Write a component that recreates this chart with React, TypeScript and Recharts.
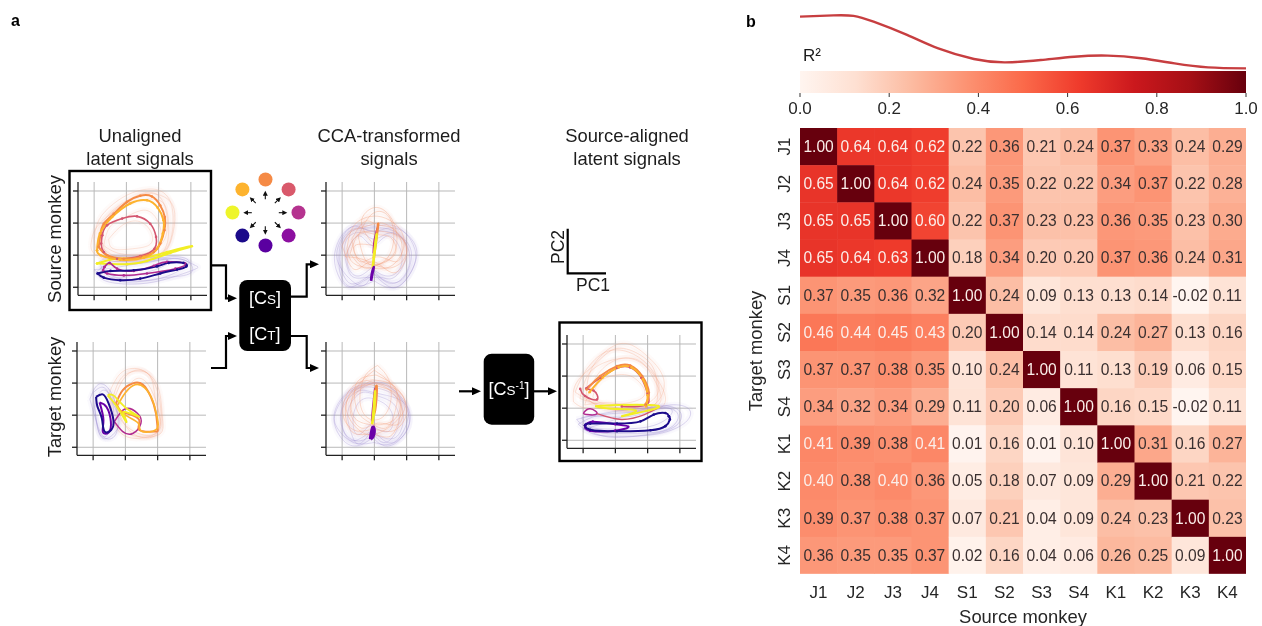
import React from "react";
import {
  Area,
  AreaChart,
  Bar,
  BarChart,
  CartesianGrid,
  ComposedChart,
  Line,
  LineChart,
  Scatter,
  ScatterChart,
  XAxis,
  YAxis,
} from "recharts";

type Pt = [number, number];

const FONT = "'Liberation Sans', Arial, sans-serif";

// --- heatmap ---
const sourceLabels = ["J1", "J2", "J3", "J4", "S1", "S2", "S3", "S4", "K1", "K2", "K3", "K4"];
const targetLabels = ["J1", "J2", "J3", "J4", "S1", "S2", "S3", "S4", "K1", "K2", "K3", "K4"];
const rowJ1 = [1.0, 0.64, 0.64, 0.62, 0.22, 0.36, 0.21, 0.24, 0.37, 0.33, 0.24, 0.29];
const rowJ2 = [0.65, 1.0, 0.64, 0.62, 0.24, 0.35, 0.22, 0.22, 0.34, 0.37, 0.22, 0.28];
const rowJ3 = [0.65, 0.65, 1.0, 0.6, 0.22, 0.37, 0.23, 0.23, 0.36, 0.35, 0.23, 0.3];
const rowJ4 = [0.65, 0.64, 0.63, 1.0, 0.18, 0.34, 0.2, 0.2, 0.37, 0.36, 0.24, 0.31];
const rowS1 = [0.37, 0.35, 0.36, 0.32, 1.0, 0.24, 0.09, 0.13, 0.13, 0.14, -0.02, 0.11];
const rowS2 = [0.46, 0.44, 0.45, 0.43, 0.2, 1.0, 0.14, 0.14, 0.24, 0.27, 0.13, 0.16];
const rowS3 = [0.37, 0.37, 0.38, 0.35, 0.1, 0.24, 1.0, 0.11, 0.13, 0.19, 0.06, 0.15];
const rowS4 = [0.34, 0.32, 0.34, 0.29, 0.11, 0.2, 0.06, 1.0, 0.16, 0.15, -0.02, 0.11];
const rowK1 = [0.41, 0.39, 0.38, 0.41, 0.01, 0.16, 0.01, 0.1, 1.0, 0.31, 0.16, 0.27];
const rowK2 = [0.4, 0.38, 0.4, 0.36, 0.05, 0.18, 0.07, 0.09, 0.29, 1.0, 0.21, 0.22];
const rowK3 = [0.39, 0.37, 0.38, 0.37, 0.07, 0.21, 0.04, 0.09, 0.24, 0.23, 1.0, 0.23];
const rowK4 = [0.36, 0.35, 0.35, 0.37, 0.02, 0.16, 0.04, 0.06, 0.26, 0.25, 0.09, 1.0];
const matrix = [rowJ1, rowJ2, rowJ3, rowJ4, rowS1, rowS2, rowS3, rowS4, rowK1, rowK2, rowK3, rowK4];

const redsStops = ["#fff5f0", "#fee0d2", "#fcbba1", "#fc9272", "#fb6a4a", "#ef3b2c", "#cb181d", "#a50f15", "#67000d"];

// --- R2 curve above the colour bar ---
const curveX = [0, 0.075, 0.12, 0.165, 0.24, 0.31, 0.39, 0.46, 0.54, 0.615, 0.69, 0.765, 0.84, 0.915, 1];
const curveY = [0.975, 1, 0.99, 0.88, 0.63, 0.375, 0.176, 0.113, 0.157, 0.22, 0.24, 0.19, 0.094, 0.019, 0];
const colorbarTicks = [0, 0.2, 0.4, 0.6, 0.8, 1];

// --- reach direction legend ---
const dirX = [0, 0.7, 1, 0.7, 0, -0.7, -1, -0.7];
const dirY = [1, 0.7, 0, -0.7, -1, -0.7, 0, 0.7];
const dirColors = ["#f58a45", "#d9596b", "#b5338f", "#8c0fa0", "#5a00a0", "#1b0a8a", "#eef52a", "#fdb32e"];

const ORANGE = "#f58a45";
const GOLD = "#fdb32e";
const ROSE = "#d4566f";
const YELLOW = "#f2ee24";
const MAGENTA = "#b12a90";
const PURPLE = "#6a00a8";
const NAVY = "#1d0c8c";
const FAINT_WARM = "#f4a582";
const FAINT_COOL = "#9a8ad0";

// --- source monkey, unaligned ---
const s1Orange: Pt[] = [[0.14, 1.26], [0.2, 1.67], [0.3, 1.98], [0.61, 2.29], [1.02, 2.66], [1.43, 2.85], [1.79, 2.83], [2.05, 2.55], [2.19, 2.19], [2.18, 1.78], [2.05, 1.36], [1.85, 1.1], [1.43, 0.94], [0.92, 0.89], [0.4, 1.0], [0.14, 1.26]];
const s1Gold: Pt[] = [[0.09, 1.15], [0.18, 1.67], [0.56, 2.19], [1.12, 2.61], [1.64, 2.71], [1.97, 2.48], [2.15, 2.09], [2.13, 1.67], [1.95, 1.2], [1.54, 0.92], [0.81, 0.86], [0.2, 1.0], [0.09, 1.15]];
const s1Rose: Pt[] = [[0.25, 1.62], [0.4, 1.93], [0.87, 2.14], [1.33, 2.21], [1.74, 1.98], [1.92, 1.57], [1.87, 1.2], [1.43, 0.97], [0.71, 0.89], [0.3, 1.1], [0.22, 1.36], [0.25, 1.62]];
const s1Yellow: Pt[] = [[0.09, 0.74], [0.71, 0.89], [1.54, 0.92], [2.26, 1.1], [3.03, 1.28], [2.36, 1.07], [1.64, 0.82], [1.02, 0.72], [0.09, 0.74]];
const s1Magenta: Pt[] = [[0.32, 0.63], [0.48, 0.76], [0.71, 0.58], [1.23, 0.51], [1.85, 0.67], [2.26, 0.79], [2.82, 0.74], [2.52, 0.58], [1.64, 0.43], [0.92, 0.37], [0.4, 0.43], [0.28, 0.53], [0.32, 0.63]];
const s1Navy: Pt[] = [[0.11, 0.43], [0.3, 0.3], [0.81, 0.22], [1.43, 0.27], [2.05, 0.43], [2.57, 0.55], [2.86, 0.65], [2.77, 0.76], [2.31, 0.76], [1.95, 0.65], [1.23, 0.53], [0.51, 0.51], [0.11, 0.43]];
const s1Warm: Pt[][] = [
  [[0.0, 1.5], [0.15, 2.1], [0.6, 2.6], [1.2, 2.95], [1.9, 3.05], [2.35, 2.7], [2.45, 2.0], [2.3, 1.3], [1.8, 0.95], [0.9, 0.8], [0.2, 0.95], [0.0, 1.5]],
  [[-0.1, 1.3], [0.1, 1.9], [0.8, 2.5], [1.5, 2.9], [2.2, 2.8], [2.5, 2.3], [2.4, 1.5], [2.0, 1.0], [1.0, 0.9], [0.1, 1.0], [-0.1, 1.3]],
  [[0.3, 1.3], [0.5, 1.9], [1.0, 2.2], [1.6, 2.4], [2.0, 2.0], [2.05, 1.4], [1.6, 1.05], [0.8, 1.05], [0.3, 1.3]],
  [[0.1, 1.5], [0.4, 2.2], [1.1, 2.75], [1.8, 2.95], [2.2, 2.5], [2.25, 1.7], [1.9, 1.2], [1.1, 0.95], [0.4, 1.1], [0.1, 1.5]],
  [[0.45, 1.5], [0.9, 1.95], [1.4, 2.05], [1.75, 1.75], [1.75, 1.35], [1.2, 1.2], [0.6, 1.2], [0.45, 1.5]],
  [[0.2, 1.8], [0.7, 2.45], [1.35, 2.7], [2.05, 2.7], [2.3, 2.1], [2.2, 1.2], [1.5, 0.85], [0.5, 0.95], [0.2, 1.8]],
];
const s1Cool: Pt[][] = [
  [[0.05, 0.45], [0.4, 0.18], [1.2, 0.1], [2.1, 0.22], [3.1, 0.55], [3.1, 0.7], [2.5, 0.9], [1.5, 0.75], [0.5, 0.7], [0.05, 0.45]],
  [[0.2, 0.6], [0.7, 0.3], [1.6, 0.2], [2.4, 0.4], [2.95, 0.78], [2.4, 0.95], [1.4, 0.8], [0.6, 0.8], [0.2, 0.6]],
  [[0.0, 0.55], [0.5, 0.25], [1.3, 0.17], [2.2, 0.3], [3.0, 0.45], [2.8, 0.85], [1.8, 0.82], [0.7, 0.62], [0.0, 0.55]],
  [[0.15, 0.8], [0.45, 0.35], [1.0, 0.32], [1.9, 0.55], [2.3, 0.85], [1.5, 0.95], [0.6, 0.95], [0.15, 0.8]],
];

// --- target monkey, unaligned ---
const t1Navy: Pt[] = [[0.09, 1.57], [0.3, 1.65], [0.48, 1.37], [0.63, 0.85], [0.56, 0.54], [0.35, 0.5], [0.27, 0.9], [0.14, 1.25], [0.09, 1.57]];
const t1Purple: Pt[] = [[0.2, 1.4], [0.42, 1.25], [0.55, 0.8], [0.48, 0.46], [0.3, 0.48], [0.32, 0.85], [0.2, 1.4]];
const t1Orange: Pt[] = [[0.71, 1.37], [0.92, 1.78], [1.23, 1.99], [1.53, 1.96], [1.79, 1.57], [1.95, 1.05], [2.0, 0.59], [1.9, 0.49], [1.43, 0.54], [1.43, 0.85], [1.07, 1.05], [0.82, 1.16], [0.71, 1.37]];
const t1Gold: Pt[] = [[0.75, 1.3], [1.0, 1.7], [1.3, 1.95], [1.6, 1.85], [1.85, 1.45], [1.98, 0.95], [1.95, 0.55], [1.5, 0.5], [1.4, 0.75], [1.0, 1.0], [0.75, 1.3]];
const t1Rose: Pt[] = [[0.66, 0.8], [0.92, 0.49], [1.23, 0.43], [1.48, 0.74], [1.38, 1.05], [1.0, 1.2], [0.66, 0.8]];
const t1Yellow: Pt[] = [[0.45, 1.62], [0.75, 1.25], [1.02, 0.8], [0.98, 0.95], [1.0, 1.1], [1.43, 0.95], [1.05, 1.2], [0.65, 1.6], [0.45, 1.62]];
const t1Warm: Pt[][] = [
  [[0.55, 1.3], [0.8, 2.05], [1.2, 2.35], [1.7, 2.3], [2.05, 1.75], [2.15, 0.9], [2.05, 0.4], [1.3, 0.35], [0.7, 0.7], [0.55, 1.3]],
  [[0.65, 1.5], [1.0, 2.2], [1.5, 2.4], [1.9, 2.0], [2.1, 1.2], [2.0, 0.5], [1.5, 0.4], [0.9, 0.8], [0.65, 1.5]],
  [[0.75, 1.2], [1.1, 1.9], [1.45, 2.15], [1.8, 1.8], [2.05, 1.0], [1.9, 0.35], [1.2, 0.45], [0.75, 1.2]],
  [[0.5, 1.7], [0.85, 2.3], [1.35, 2.45], [1.8, 2.15], [1.95, 1.4], [2.1, 0.65], [1.6, 0.3], [0.8, 0.5], [0.5, 1.7]],
];
const t1Cool: Pt[][] = [
  [[-0.1, 1.5], [0.15, 1.95], [0.5, 1.8], [0.75, 1.1], [0.7, 0.4], [0.35, 0.3], [0.1, 0.8], [-0.1, 1.5]],
  [[0.0, 1.7], [0.35, 1.85], [0.65, 1.3], [0.8, 0.7], [0.45, 0.28], [0.15, 0.55], [0.0, 1.7]],
  [[0.05, 1.25], [0.25, 1.75], [0.55, 1.55], [0.6, 0.7], [0.25, 0.35], [0.05, 1.25]],
];

// --- CCA-transformed panels ---
const ccaTopWarm: Pt[][] = [
  [[1.0, 1.3], [0.6, 2.0], [0.9, 2.45], [1.3, 2.4], [1.6, 2.0], [1.7, 1.4], [1.5, 0.9], [1.0, 0.7], [0.5, 0.9], [0.4, 1.3], [1.0, 1.3]],
  [[0.15, 1.2], [0.35, 1.9], [0.85, 2.2], [1.35, 2.15], [1.8, 1.8], [1.9, 1.2], [1.5, 0.65], [0.9, 0.6], [0.35, 0.75], [0.15, 1.2]],
  [[0.3, 1.5], [0.7, 2.05], [1.1, 1.95], [1.55, 1.85], [1.85, 1.35], [1.7, 0.8], [1.1, 0.95], [0.55, 0.8], [0.3, 1.5]],
  [[0.5, 1.6], [0.95, 2.3], [1.45, 2.2], [1.6, 1.5], [1.35, 0.85], [0.8, 0.75], [0.5, 1.6]],
  [[0.0, 1.3], [0.3, 1.75], [0.75, 1.9], [1.25, 2.0], [1.75, 1.65], [2.0, 1.05], [1.6, 0.45], [0.95, 0.8], [0.4, 0.55], [0.0, 1.3]],
  [[0.25, 1.05], [0.55, 1.7], [1.0, 1.65], [1.5, 1.55], [1.65, 1.05], [1.2, 0.75], [0.7, 0.6], [0.25, 1.05]],
  [[0.1, 0.95], [0.4, 1.55], [0.9, 1.75], [1.45, 1.7], [1.95, 1.4], [1.9, 0.85], [1.35, 0.6], [0.7, 0.85], [0.1, 0.95]],
];
const ccaTopCool: Pt[][] = [
  [[1.0, 0.4], [0.5, 0.1], [0.1, 0.05], [-0.2, 0.6], [-0.2, 1.2], [0.1, 1.75], [0.6, 1.95], [1.0, 1.9], [1.4, 1.95], [1.9, 1.75], [2.25, 1.2], [2.2, 0.6], [1.8, 0.05], [1.4, 0.05], [1.0, 0.4]],
  [[1.0, 0.5], [0.6, 0.2], [0.2, 0.15], [-0.05, 0.7], [0.0, 1.3], [0.3, 1.75], [0.8, 1.85], [1.2, 1.85], [1.7, 1.7], [2.05, 1.2], [2.05, 0.6], [1.7, 0.15], [1.3, 0.2], [1.0, 0.5]],
  [[1.0, 0.3], [0.7, 0.3], [0.3, 0.35], [0.1, 0.9], [0.15, 1.5], [0.6, 1.7], [1.0, 1.5], [1.5, 1.7], [1.95, 1.4], [1.95, 0.8], [1.6, 0.3], [1.25, 0.3], [1.0, 0.3]],
  [[0.9, 0.6], [0.5, 0.35], [0.2, 0.6], [0.2, 1.2], [0.55, 1.6], [0.95, 1.3], [1.4, 1.6], [1.8, 1.2], [1.8, 0.6], [1.4, 0.35], [0.9, 0.6]],
  [[1.0, 0.2], [0.4, 0.0], [0.0, 0.25], [-0.1, 0.95], [0.05, 1.55], [0.5, 1.85], [1.0, 1.75], [1.6, 1.85], [2.15, 1.5], [2.3, 0.9], [1.9, 0.15], [1.4, 0.0], [1.0, 0.2]],
  [[0.95, 0.45], [0.65, 0.05], [0.2, 0.3], [-0.15, 0.85], [-0.05, 1.45], [0.35, 1.9], [0.85, 1.75], [1.3, 1.75], [1.85, 1.55], [2.15, 1.05], [1.95, 0.35], [1.5, 0.15], [0.95, 0.45]],
];
const ccaBottomWarm: Pt[][] = [
  [[0.95, 2.1], [0.4, 1.95], [0.05, 1.4], [0.1, 0.8], [0.5, 0.5], [1.0, 0.55], [1.55, 0.5], [1.95, 0.9], [1.95, 1.45], [1.55, 1.95], [0.95, 2.1]],
  [[1.0, 2.4], [0.6, 2.05], [0.3, 1.5], [0.4, 0.9], [1.0, 0.7], [1.6, 0.85], [1.8, 1.4], [1.5, 2.0], [1.0, 2.4]],
  [[0.95, 2.0], [0.5, 1.75], [0.25, 1.15], [0.6, 0.6], [1.1, 0.75], [1.7, 0.7], [1.85, 1.2], [1.45, 1.8], [0.95, 2.0]],
  [[1.1, 2.55], [0.7, 2.2], [0.55, 1.5], [0.75, 0.95], [1.2, 0.9], [1.5, 1.4], [1.45, 2.1], [1.1, 2.55]],
  [[0.9, 1.95], [0.35, 1.8], [0.1, 1.1], [0.35, 0.45], [0.95, 0.4], [1.5, 0.35], [1.8, 1.0], [1.7, 1.65], [0.9, 1.95]],
  [[1.05, 2.25], [0.45, 2.0], [0.45, 1.2], [0.8, 0.8], [1.35, 0.6], [1.65, 1.15], [1.65, 1.85], [1.05, 2.25]],
  [[0.85, 2.05], [0.2, 1.55], [0.2, 0.95], [0.65, 0.45], [1.25, 0.5], [1.9, 1.1], [1.75, 1.75], [0.85, 2.05]],
];
const ccaBottomCool: Pt[][] = [
  [[0.95, 0.3], [0.5, 0.05], [0.05, 0.2], [-0.25, 0.8], [-0.1, 1.4], [0.35, 1.85], [0.95, 2.0], [1.5, 1.85], [1.95, 1.4], [2.1, 0.8], [1.75, 0.2], [1.3, 0.05], [0.95, 0.3]],
  [[1.0, 0.4], [0.55, 0.2], [0.15, 0.35], [-0.05, 0.85], [0.1, 1.5], [0.55, 1.85], [1.05, 1.85], [1.65, 1.6], [1.9, 0.95], [1.65, 0.3], [1.0, 0.4]],
  [[0.9, 0.5], [0.5, 0.1], [0.25, 0.55], [0.2, 1.2], [0.6, 1.7], [1.1, 1.6], [1.6, 1.35], [1.75, 0.7], [1.35, 0.15], [0.9, 0.5]],
  [[1.0, 0.15], [0.35, 0.15], [-0.15, 0.6], [-0.2, 1.1], [0.2, 1.7], [0.8, 1.95], [1.4, 1.95], [2.0, 1.2], [2.0, 0.5], [1.5, 0.1], [1.0, 0.15]],
  [[0.85, 0.7], [0.45, 0.4], [0.35, 1.0], [0.65, 1.5], [1.15, 1.45], [1.55, 1.05], [1.45, 0.5], [0.85, 0.7]],
  [[0.95, 0.55], [0.3, 0.2], [0.0, 0.7], [0.05, 1.3], [0.5, 1.75], [1.0, 1.7], [1.75, 1.5], [2.05, 0.95], [1.6, 0.15], [0.95, 0.55]],
];
const ccaTopYellow: Pt[] = [[0.95, 0.62], [1.0, 1.1], [1.07, 1.65], [1.02, 1.2], [0.95, 0.62]];
const ccaTopOrange: Pt[] = [[0.98, 0.9], [1.05, 1.45], [1.12, 1.98], [1.06, 1.5], [0.98, 0.9]];
const ccaTopRose: Pt[] = [[0.97, 1.05], [1.0, 1.45], [1.1, 1.85]];
const ccaTopNavy: Pt[] = [[0.9, 0.2], [0.94, 0.42], [0.98, 0.63], [0.92, 0.42], [0.9, 0.2]];
const ccaBottomYellow: Pt[] = [[0.93, 0.72], [0.98, 1.2], [1.02, 1.75], [1.0, 1.2], [0.93, 0.72]];
const ccaBottomOrange: Pt[] = [[0.98, 1.0], [1.02, 1.6], [1.07, 1.9], [1.04, 1.3], [0.98, 1.0]];
const ccaBottomRose: Pt[] = [[0.92, 0.8], [0.95, 1.2], [1.02, 1.85]];
const ccaBottomNavy: Pt[] = [[0.88, 0.25], [0.92, 0.5], [0.97, 0.62], [0.98, 0.4], [0.88, 0.25]];

// --- source-aligned target signals ---
const alOrange: Pt[] = [[0.11, 1.58], [0.53, 2.0], [1.05, 2.31], [1.46, 2.33], [1.83, 2.0], [2.04, 1.48], [1.93, 1.11]];
const alGold: Pt[] = [[0.2, 1.5], [0.6, 1.95], [1.1, 2.27], [1.5, 2.27], [1.85, 1.9], [2.0, 1.4], [1.95, 1.05]];
const alRose: Pt[] = [[-0.09, 1.6], [0.06, 1.38], [0.43, 1.27], [0.32, 1.55], [0.1, 1.62], [0.55, 1.95], [1.05, 2.25], [1.46, 2.27], [1.8, 1.95], [2.0, 1.45], [1.95, 1.1], [1.2, 1.05]];
const alYellow: Pt[] = [[0.37, 1.06], [1.1, 1.1], [2.3, 1.08], [1.9, 0.9], [1.2, 0.75], [1.65, 0.92], [0.9, 0.98], [0.37, 1.06]];
const alMagenta: Pt[] = [[0.01, 0.85], [0.22, 0.98], [0.43, 0.83], [0.11, 0.8], [0.01, 0.85]];
const alMagentaTail: Pt[] = [[0.43, 0.83], [1.2, 0.65], [1.9, 0.8], [2.3, 1.0]];
const alNavy: Pt[] = [[2.66, 0.75], [2.55, 0.85], [2.19, 0.8], [1.78, 0.59], [1.05, 0.52], [0.22, 0.52], [0.06, 0.46], [0.22, 0.33], [1.05, 0.28], [2.09, 0.31], [2.55, 0.44], [2.69, 0.65], [2.66, 0.75]];
const alPurple: Pt[] = [[0.06, 0.46], [0.3, 0.58], [1.0, 0.5], [1.4, 0.42], [1.0, 0.3], [0.22, 0.3], [0.06, 0.46]];
const alWarm: Pt[][] = [
  [[-0.3, 1.2], [-0.2, 1.8], [0.4, 2.4], [1.0, 2.85], [1.7, 2.7], [2.2, 2.2], [2.3, 1.5], [2.1, 1.05], [1.0, 1.0], [0.1, 1.0], [-0.3, 1.2]],
  [[-0.1, 1.3], [0.2, 2.1], [0.9, 2.5], [1.7, 2.5], [2.2, 1.9], [2.4, 1.2], [1.7, 0.95], [0.6, 1.1], [-0.1, 1.3]],
  [[0.1, 1.4], [0.3, 2.3], [1.1, 3.0], [1.9, 2.7], [2.5, 1.9], [2.2, 1.1], [1.3, 0.9], [0.4, 1.1], [0.1, 1.4]],
  [[0.3, 1.35], [0.55, 1.85], [1.2, 2.05], [1.7, 1.85], [1.9, 1.4], [1.3, 1.15], [0.6, 1.15], [0.3, 1.35]],
  [[-0.25, 1.5], [0.1, 2.2], [0.7, 2.75], [1.4, 2.75], [2.0, 2.35], [2.35, 1.7], [2.0, 1.15], [0.9, 0.95], [-0.25, 1.5]],
  [[0.05, 1.1], [0.45, 2.05], [1.2, 2.55], [2.0, 2.25], [2.55, 1.35], [2.1, 0.95], [1.0, 1.15], [0.05, 1.1]],
];
const alCool: Pt[][] = [
  [[-0.15, 0.5], [0.3, 0.2], [1.1, 0.12], [2.2, 0.18], [3.1, 0.5], [3.3, 0.95], [2.7, 1.1], [1.8, 0.9], [0.6, 0.8], [-0.15, 0.5]],
  [[-0.05, 0.7], [0.5, 0.25], [1.4, 0.22], [2.5, 0.3], [2.95, 0.75], [2.5, 1.0], [1.5, 0.75], [0.4, 0.75], [-0.05, 0.7]],
  [[0.0, 0.35], [0.8, 0.1], [1.8, 0.15], [2.8, 0.4], [3.0, 0.9], [2.2, 1.05], [1.0, 0.65], [0.0, 0.35]],
  [[-0.2, 0.65], [0.2, 0.4], [1.2, 0.35], [2.3, 0.5], [2.75, 0.95], [1.9, 1.0], [0.7, 0.85], [-0.2, 0.65]],
];

const panelW = 129;
const panelH = 113.3;
const panelTicks = [0, 1, 2, 3];

type Track = { points: Pt[]; color: string; width?: number; opacity?: number; dots?: boolean };

const toPoints = (points: Pt[]) => points.map(([x, y]) => ({ x, y }));
// thin single trials: a wide pale pass gives the washed look, then the line itself
const faint = (loops: Pt[][], color: string, opacity = 0.3): Track[] =>
  loops.flatMap((points) => [
    { points, color, width: 6, opacity: 0.05 },
    { points, color, width: 1, opacity },
  ]);

// one small PC1/PC2 plot; spineX and spineY are where its axes cross on the page
const TrajectoryPanel = ({ spineX, spineY, tracks }: { spineX: number; spineY: number; tracks: Track[] }) => (
  <div style={{ position: "absolute", left: spineX - 10, top: spineY - panelH }}>
    <ComposedChart
      width={panelW + 10}
      height={panelH + 10}
      margin={{ top: 0, right: 0, bottom: 0, left: 0 }}
      style={{ overflow: "visible" }}
    >
      <CartesianGrid stroke="#b9b9b9" strokeWidth={1} syncWithTicks />
      <XAxis
        type="number"
        dataKey="x"
        domain={[-0.5, 3.5]}
        ticks={panelTicks}
        tickFormatter={() => ""}
        tickSize={5}
        height={10}
        allowDataOverflow
        stroke="#222"
        strokeWidth={1.3}
      />
      <YAxis
        type="number"
        dataKey="y"
        domain={[-0.25, 3.28]}
        ticks={panelTicks}
        tickFormatter={() => ""}
        tickSize={5}
        width={10}
        allowDataOverflow
        stroke="#222"
        strokeWidth={1.3}
      />
      {tracks.map((t, i) => (
        <Line
          key={i}
          data={toPoints(t.points)}
          dataKey="y"
          type="natural"
          stroke={t.color}
          strokeWidth={t.width ?? 2}
          strokeOpacity={t.opacity ?? 1}
          dot={t.dots ? { r: 1.3, fill: t.color, stroke: "none" } : false}
          activeDot={false}
          isAnimationActive={false}
        />
      ))}
    </ComposedChart>
  </div>
);

const tracksSource: Track[] = [
  ...faint(s1Warm, FAINT_WARM, 0.28),
  ...faint(s1Cool, FAINT_COOL, 0.3),
  { points: s1Yellow, color: YELLOW, dots: true },
  { points: s1Rose, color: ROSE, width: 1.6, dots: true },
  { points: s1Orange, color: ORANGE, dots: true },
  { points: s1Gold, color: GOLD, dots: true },
  { points: s1Magenta, color: MAGENTA, width: 1.6, dots: true },
  { points: s1Navy, color: NAVY, dots: true },
];
const tracksTarget: Track[] = [
  ...faint(t1Warm, FAINT_WARM, 0.3),
  ...faint(t1Cool, FAINT_COOL, 0.35),
  { points: t1Rose, color: MAGENTA, width: 1.5 },
  { points: t1Orange, color: ORANGE },
  { points: t1Gold, color: GOLD, width: 1.6 },
  { points: t1Purple, color: PURPLE },
  { points: t1Navy, color: NAVY },
  { points: t1Yellow, color: YELLOW, width: 1.8 },
];
const tracksCcaTop: Track[] = [
  ...faint(ccaTopCool, FAINT_COOL, 0.3),
  ...faint(ccaTopWarm, FAINT_WARM, 0.4),
  { points: ccaTopRose, color: MAGENTA, width: 2 },
  { points: ccaTopOrange, color: ORANGE, width: 2.5 },
  { points: ccaTopYellow, color: YELLOW, width: 2.5 },
  { points: ccaTopNavy, color: PURPLE, width: 2.5 },
];
const tracksCcaBottom: Track[] = [
  ...faint(ccaBottomCool, FAINT_COOL, 0.3),
  ...faint(ccaBottomWarm, FAINT_WARM, 0.4),
  { points: ccaBottomRose, color: MAGENTA, width: 2 },
  { points: ccaBottomOrange, color: ORANGE, width: 2.5 },
  { points: ccaBottomYellow, color: YELLOW, width: 2.5 },
  { points: ccaBottomNavy, color: PURPLE, width: 3.5 },
];
const tracksAligned: Track[] = [
  ...faint(alWarm, FAINT_WARM, 0.3),
  ...faint(alCool, FAINT_COOL, 0.35),
  { points: alMagenta, color: MAGENTA, width: 1.5 },
  { points: alMagentaTail, color: ROSE, width: 1.5 },
  { points: alRose, color: ROSE, width: 1.6, dots: true },
  { points: alOrange, color: ORANGE, dots: true },
  { points: alGold, color: GOLD, dots: true },
  { points: alYellow, color: YELLOW },
  { points: alPurple, color: PURPLE, dots: true },
  { points: alNavy, color: NAVY, dots: true },
];

const hexToRgb = (h: string) => [1, 3, 5].map((i) => parseInt(h.slice(i, i + 2), 16));
const redsColor = (v: number) => {
  const t = Math.max(0, Math.min(1, v)) * (redsStops.length - 1);
  const i = Math.min(Math.floor(t), redsStops.length - 2);
  const a = hexToRgb(redsStops[i]);
  const b = hexToRgb(redsStops[i + 1]);
  const c = a.map((n, k) => Math.round(n + (b[k] - n) * (t - i)));
  return `rgb(${c[0]},${c[1]},${c[2]})`;
};

const heatData = targetLabels.map((row) => {
  const d: Record<string, number | string> = { row };
  sourceLabels.forEach((s) => {
    d[s] = 1; // every cell is one unit wide, the colour carries the value
  });
  return d;
});

const HeatCell = (col: number) => (props: any) => {
  const { x, y, width, height, index } = props;
  const v = matrix[index][col];
  // slight overlap so no white seam shows between the cells
  const w = col === sourceLabels.length - 1 ? width : width + 0.6;
  const h = index === targetLabels.length - 1 ? height : height + 0.6;
  return (
    <g>
      <rect x={x} y={y} width={w} height={h} fill={redsColor(v)} />
      <text
        x={x + width / 2}
        y={y + height / 2 + 5.4}
        textAnchor="middle"
        fontSize={15.6}
        fontFamily={FONT}
        fill={v >= 0.4 ? "#fbeeea" : "#3a3030"}
      >
        {v.toFixed(2)}
      </text>
    </g>
  );
};

const RowTick = (props: any) => {
  const { x, y, payload } = props;
  const tx = x - 2;
  return (
    <text
      x={tx}
      y={y}
      transform={`rotate(-90 ${tx} ${y})`}
      textAnchor="middle"
      fontSize={17}
      fontFamily={FONT}
      fill="#262626"
    >
      {payload.value}
    </text>
  );
};

const Heatmap = () => (
  <div style={{ position: "absolute", left: 740, top: 128 }}>
    <BarChart
      width={506}
      height={498}
      data={heatData}
      layout="vertical"
      barCategoryGap={0}
      margin={{ top: 0, right: 0, bottom: 0, left: 0 }}
      style={{ overflow: "visible" }}
    >
      <XAxis
        type="number"
        domain={[0, 12]}
        ticks={sourceLabels.map((_, i) => i + 0.5)}
        tickFormatter={(v: number) => sourceLabels[v - 0.5]}
        interval={0}
        axisLine={false}
        tickLine={false}
        height={52}
        tickMargin={6}
        tick={{ fontSize: 17, fontFamily: FONT, fill: "#262626" }}
        label={{ value: "Source monkey", position: "insideBottom", offset: 3, fontSize: 18.4, fontFamily: FONT, fill: "#262626" }}
      />
      <YAxis
        type="category"
        dataKey="row"
        width={60}
        axisLine={false}
        tickLine={false}
        interval={0}
        tick={<RowTick />}
        label={{ value: "Target monkey", angle: -90, position: "insideLeft", offset: 15, fontSize: 18.4, fontFamily: FONT, fill: "#262626", style: { textAnchor: "middle" } }}
      />
      {sourceLabels.map((s, col) => (
        <Bar key={s} dataKey={s} stackId="row" shape={HeatCell(col)} isAnimationActive={false} />
      ))}
    </BarChart>
  </div>
);

const ColorBar = () => (
  <div style={{ position: "absolute", left: 770, top: 71 }}>
    <AreaChart
      width={506}
      height={52}
      data={[{ x: 0, y: 1 }, { x: 1, y: 1 }]}
      margin={{ top: 0, right: 30, bottom: 0, left: 30 }}
    >
      <defs>
        <linearGradient id="redsGrad" x1="0" y1="0" x2="1" y2="0">
          {redsStops.map((c, i) => (
            <stop key={c} offset={i / (redsStops.length - 1)} stopColor={c} />
          ))}
        </linearGradient>
      </defs>
      <XAxis
        type="number"
        dataKey="x"
        domain={[0, 1]}
        ticks={colorbarTicks}
        tickFormatter={(v: number) => v.toFixed(1)}
        interval={0}
        height={30}
        axisLine={false}
        tickSize={4}
        stroke="#333"
        tickMargin={5}
        tick={{ fontSize: 17, fontFamily: FONT, fill: "#262626" }}
      />
      <YAxis type="number" domain={[0, 1]} hide />
      <Area dataKey="y" type="linear" stroke="none" fill="url(#redsGrad)" fillOpacity={1} isAnimationActive={false} />
    </AreaChart>
  </div>
);

const R2Curve = () => (
  <div style={{ position: "absolute", left: 800, top: 5 }}>
    <LineChart
      width={446}
      height={70}
      data={curveX.map((x, i) => ({ x, y: curveY[i] }))}
      margin={{ top: 0, right: 0, bottom: 0, left: 0 }}
    >
      <XAxis type="number" dataKey="x" domain={[0, 1]} hide />
      <YAxis type="number" domain={[-0.125, 1.195]} hide />
      <Line dataKey="y" type="natural" stroke="#c73e40" strokeWidth={2.4} dot={false} isAnimationActive={false} />
    </LineChart>
  </div>
);

const DirectionDots = () => (
  <div style={{ position: "absolute", left: 216, top: 163 }}>
    <ScatterChart width={99} height={99} margin={{ top: 0, right: 0, bottom: 0, left: 0 }}>
      <XAxis type="number" dataKey="x" domain={[-1.5, 1.5]} hide />
      <YAxis type="number" dataKey="y" domain={[-1.5, 1.5]} hide />
      <Scatter
        data={dirX.map((x, i) => ({ x, y: dirY[i], fill: dirColors[i] }))}
        isAnimationActive={false}
        shape={(p: any) => <circle cx={p.cx} cy={p.cy} r={7} fill={p.payload.fill} />}
      />
    </ScatterChart>
  </div>
);

const Caption = ({ x, y, children, rotate, size = 18.4, anchor = "middle", weight, fill = "#1c1c1c" }: any) => (
  <text
    x={x}
    y={y}
    textAnchor={anchor}
    fontSize={size}
    fontWeight={weight}
    fontFamily={FONT}
    fill={fill}
    transform={rotate ? `rotate(${rotate} ${x} ${y})` : undefined}
  >
    {children}
  </text>
);

// titles, frames, black transform boxes and the flow arrows of the diagram
const Diagram = () => (
  <svg width={1262} height={626} style={{ position: "absolute", left: 0, top: 0, pointerEvents: "none" }}>
    <defs>
      <marker id="flow" markerUnits="userSpaceOnUse" markerWidth={10} markerHeight={8} refX={1} refY={4} orient="auto">
        <path d="M0,0 L9,4 L0,8 Z" fill="#000" />
      </marker>
      <marker id="tiny" markerUnits="userSpaceOnUse" markerWidth={6} markerHeight={5} refX={1} refY={2.5} orient="auto">
        <path d="M0,0 L5,2.5 L0,5 Z" fill="#111" />
      </marker>
    </defs>

    <Caption x={11} y={26} size={16} anchor="start" weight="bold" fill="#000">a</Caption>
    <Caption x={746} y={27} size={16} anchor="start" weight="bold" fill="#000">b</Caption>

    <Caption x={140} y={142}>Unaligned</Caption>
    <Caption x={140} y={165}>latent signals</Caption>
    <Caption x={389} y={142}>CCA-transformed</Caption>
    <Caption x={389} y={165}>signals</Caption>
    <Caption x={627} y={142}>Source-aligned</Caption>
    <Caption x={627} y={165}>latent signals</Caption>
    <Caption x={61} y={239} rotate={-90}>Source monkey</Caption>
    <Caption x={61} y={397} rotate={-90}>Target monkey</Caption>

    <rect x={69.5} y={171} width={141.5} height={139} fill="none" stroke="#000" strokeWidth={2.4} />
    <rect x={559.5} y={322.5} width={142} height={138.5} fill="none" stroke="#000" strokeWidth={2.4} />

    {dirX.map((dx, i) => {
      const n = Math.hypot(dx, dirY[i]);
      const ux = dx / n;
      const uy = -dirY[i] / n;
      return (
        <line
          key={i}
          x1={265.3 + ux * 13.5}
          y1={212.7 + uy * 13.5}
          x2={265.3 + ux * 18}
          y2={212.7 + uy * 18}
          stroke="#111"
          strokeWidth={1.1}
          markerEnd="url(#tiny)"
        />
      );
    })}

    <g fill="none" stroke="#000" strokeWidth={2.2}>
      <path d="M211,265.3 H226 V298.3 H229" markerEnd="url(#flow)" />
      <path d="M211,368 H226 V336 H229" markerEnd="url(#flow)" />
      <path d="M291,296.7 H306.7 V264.3 H311" markerEnd="url(#flow)" />
      <path d="M291,336 H306.7 V368 H311" markerEnd="url(#flow)" />
      <path d="M459,391.3 H473" markerEnd="url(#flow)" />
      <path d="M534,391.3 H549" markerEnd="url(#flow)" />
      <path d="M567.7,228.7 V273.3 H606" />
    </g>

    <rect x={239.3} y={280} width={51.7} height={71} rx={8} fill="#000" />
    <rect x={483.7} y={353.7} width={50.5} height={71} rx={8} fill="#000" />
    <Caption x={265} y={304} size={18} fill="#fff">
      [C<tspan fontSize={13.5}>S</tspan>]
    </Caption>
    <Caption x={265} y={340} size={18} fill="#fff">
      [C<tspan fontSize={13.5}>T</tspan>]
    </Caption>
    <Caption x={509} y={395} size={18} fill="#fff">
      [C<tspan fontSize={13.5}>S</tspan>
      <tspan fontSize={10} dy={-6}>-1</tspan>
      <tspan dy={6}>]</tspan>
    </Caption>

    <Caption x={564} y={247} rotate={-90} size={17.5}>PC2</Caption>
    <Caption x={593} y={291} size={17.5}>PC1</Caption>
    <Caption x={803} y={61} anchor="start" size={17}>R²</Caption>
  </svg>
);

const App = () => (
  <div
    style={{
      position: "absolute",
      left: 0,
      top: 0,
      width: 1262,
      height: 626,
      background: "#fff",
      overflow: "hidden",
      filter: "blur(0.35px)",
    }}
  >
    <TrajectoryPanel spineX={77.7} spineY={295} tracks={tracksSource} />
    <TrajectoryPanel spineX={77.4} spineY={455.3} tracks={tracksTarget} />
    <TrajectoryPanel spineX={326} spineY={295} tracks={tracksCcaTop} />
    <TrajectoryPanel spineX={326} spineY={455.3} tracks={tracksCcaBottom} />
    <TrajectoryPanel spineX={567} spineY={448.7} tracks={tracksAligned} />
    <DirectionDots />
    <R2Curve />
    <ColorBar />
    <Heatmap />
    <Diagram />
  </div>
);

export default App;
